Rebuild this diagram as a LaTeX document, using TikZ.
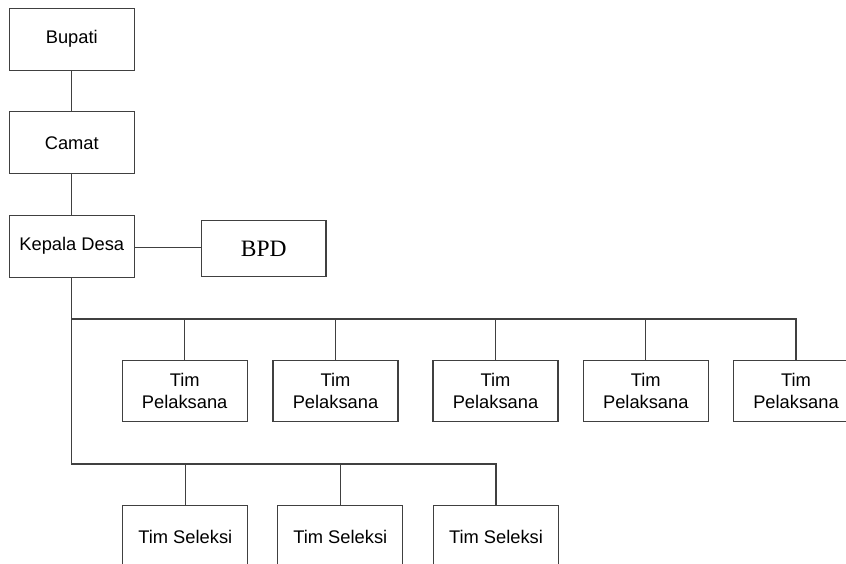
\documentclass[tikz,border=0pt]{standalone}
\usepackage{fontspec}
\setmainfont{Liberation Sans}
\newfontfamily\bpdfont{Liberation Serif}
\definecolor{linec}{HTML}{404040}
\begin{document}
\begin{tikzpicture}[x=1pt,y=-1pt,
  box/.style={draw=linec, line width=1.3pt, fill=white, rectangle, inner sep=0pt,
    minimum width=125pt, minimum height=62pt, align=center,
    font=\fontsize{18.3}{22}\selectfont},
  conn/.style={draw=linec, line width=1.3pt}]
\useasboundingbox (0,0) rectangle (846,564);
\clip (0,0) rectangle (846,564);
\fill[white] (0,0) rectangle (846,564);

\node[box] (bupati) at (71.8,39.2) {Bupati};
\node[box] (camat) at (71.8,142.8) {Camat};
\node[box] (kades) at (71.8,246.2) {Kepala Desa};
\node[box, minimum width=124.3pt, minimum height=56pt, font=\bpdfont\fontsize{23.5}{26}\selectfont] (bpd) at (263.8,248.7) {BPD};

\node[box, minimum height=61pt] (p1) at (184.7,391.2) {Tim\\Pelaksana};
\node[box, minimum height=61pt] (p2) at (335.5,391.2) {Tim\\Pelaksana};
\node[box, minimum height=61pt] (p3) at (495.5,391.2) {Tim\\Pelaksana};
\node[box, minimum height=61pt] (p4) at (645.8,391.2) {Tim\\Pelaksana};
\node[box, minimum height=61pt] (p5) at (796,391.2) {Tim\\Pelaksana};

\node[box, minimum height=62pt] (s1) at (185.3,536.7) {Tim Seleksi};
\node[box, minimum height=62pt] (s2) at (340.3,536.7) {Tim Seleksi};
\node[box, minimum height=62pt] (s3) at (496,536.7) {Tim Seleksi};

\coordinate (busA) at (71.8,319);
\coordinate (busB) at (71.8,464);

\draw[conn] (bupati.south) -- (camat.north);
\draw[conn] (camat.south) -- (kades.north);
\draw[conn] (kades.east |- 0,247.7) -- (bpd.west |- 0,247.7);
\draw[conn] (kades.south) -- (busB) -- (s3.north |- busB) -- (s3.north);
\draw[conn] (busA) -- (p5.north |- busA) -- (p5.north);
\foreach \n in {p1,p2,p3,p4}
  \draw[conn] (\n.north |- busA) -- (\n.north);
\foreach \n in {s1,s2}
  \draw[conn] (\n.north |- busB) -- (\n.north);
\end{tikzpicture}
\end{document}
